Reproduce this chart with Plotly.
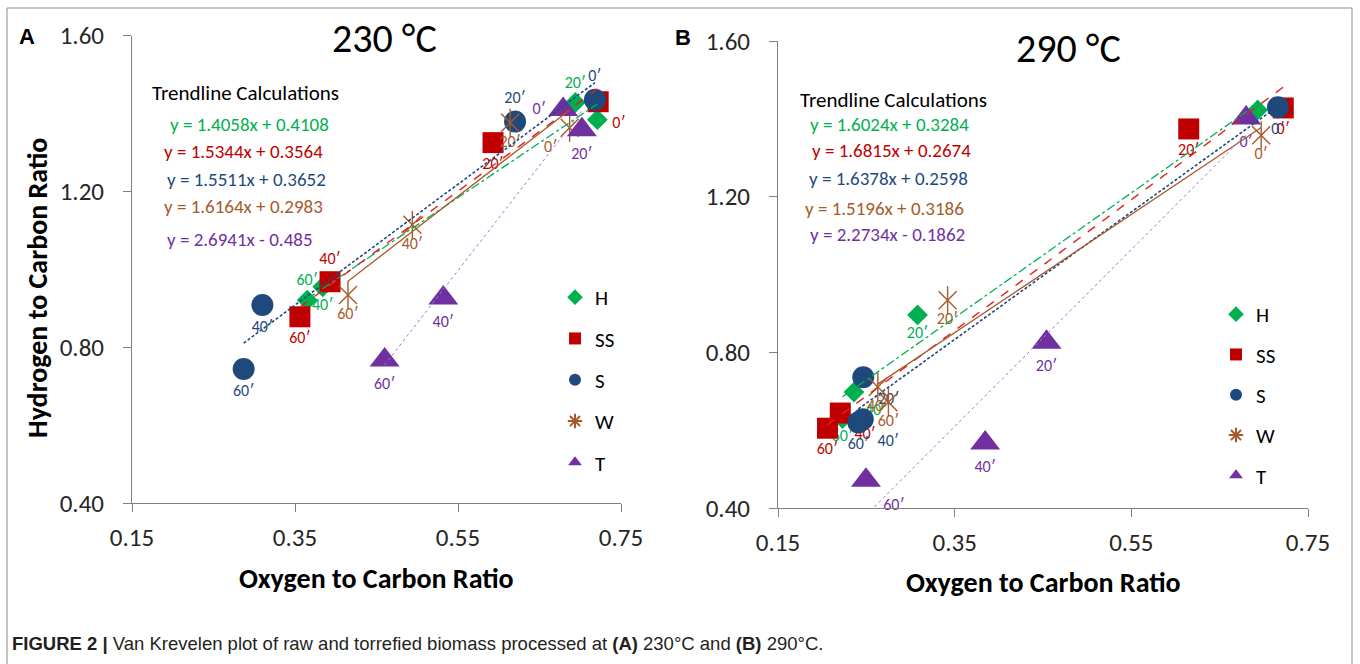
import plotly.graph_objects as go

FIG_W, FIG_H = 1360, 664
FONT = "Carlito, Lato, sans-serif"

# ---------------- data ----------------
series = ["H", "SS", "S", "W", "T"]
colors = ["#00B050", "#C00000", "#1F497D", "#A8592A", "#7030A0"]
time_labels = ["0′", "20′", "40′", "60′"]
x_ticks = [0.15, 0.35, 0.55, 0.75]
y_ticks = [0.40, 0.80, 1.20, 1.60]

# Panel A : 230 °C  (O/C, H/C) for 0', 20', 40', 60'
a_H_x = [0.721, 0.694, 0.384, 0.365]
a_H_y = [1.384, 1.428, 0.955, 0.921]
a_SS_x = [0.722, 0.593, 0.393, 0.356]
a_SS_y = [1.430, 1.325, 0.968, 0.878]
a_S_x = [0.718, 0.620, 0.310, 0.287]
a_S_y = [1.435, 1.379, 0.908, 0.744]
a_W_x = [0.687, 0.614, 0.494, 0.415]
a_W_y = [1.363, 1.376, 1.114, 0.934]
a_T_x = [0.679, 0.702, 0.532, 0.460]
a_T_y = [1.410, 1.358, 0.926, 0.767]

# Panel B : 290 °C
b_H_x = [0.693, 0.308, 0.236, 0.223]
b_H_y = [1.423, 0.896, 0.698, 0.630]
b_SS_x = [0.722, 0.615, 0.2205, 0.206]
b_SS_y = [1.428, 1.374, 0.644, 0.605]
b_S_x = [0.716, 0.2465, 0.246, 0.241]
b_S_y = [1.430, 0.736, 0.628, 0.620]
b_W_x = [0.697, 0.342, 0.263, 0.275]
b_W_y = [1.358, 0.934, 0.711, 0.672]
b_T_x = [0.680, 0.454, 0.3845, 0.2496]
b_T_y = [1.402, 0.826, 0.567, 0.471]

# trendline coefficients (slope, intercept)
a_slopes = [1.4058, 1.5344, 1.5511, 1.6164, 2.6941]
a_intercepts = [0.4108, 0.3564, 0.3652, 0.2983, -0.485]
b_slopes = [1.6024, 1.6815, 1.6378, 1.5196, 2.2734]
b_intercepts = [0.3284, 0.2674, 0.2598, 0.3186, -0.1862]
a_equations = ["y = 1.4058x + 0.4108", "y = 1.5344x + 0.3564", "y = 1.5511x + 0.3652",
               "y = 1.6164x + 0.2983", "y = 2.6941x - 0.485"]
b_equations = ["y = 1.6024x + 0.3284", "y = 1.6815x + 0.2674", "y = 1.6378x + 0.2598",
               "y = 1.5196x + 0.3186", "y = 2.2734x - 0.1862"]

# point labels (H 0' label hidden in the original)
a_labels = {"H": ["", "20′", "40′", "60′"]}
b_labels = {"H": ["", "20′", "40′", "60′"]}

# ---------------- styles ----------------
symbols = {"H": "diamond", "SS": "square", "S": "circle", "W": "x-thin-open", "T": "triangle-up"}
msizes = {"H": 16, "SS": 21, "S": 22, "W": 18, "T": 26}
line_dash = ["dashdot", "dash", "3px,2px", "solid", "dot"]
line_color = ["#00B050", "#E02020", "#1F497D", "#A8592A", "#A07AD6"]
line_width = [1.3, 1.4, 1.6, 1.3, 1.0]

a_pos = {
    "H": ["top center", "top center", "bottom center", "top center"],
    "SS": ["bottom right", "bottom center", "top center", "bottom center"],
    "S": ["top center", "top center", "bottom center", "bottom center"],
    "W": ["bottom left", "bottom center", "bottom center", "bottom center"],
    "T": ["middle left", "bottom center", "bottom center", "bottom center"],
}
b_pos = {
    "H": ["bottom center", "bottom center", "bottom right", "bottom center"],
    "SS": ["bottom center", "bottom center", "bottom right", "bottom center"],
    "S": ["bottom center", "bottom right", "bottom right", "bottom center"],
    "W": ["bottom center"] * 4,
    "T": ["bottom center", "bottom center", "bottom center", "bottom right"],
}

panel_a = {"H": (a_H_x, a_H_y), "SS": (a_SS_x, a_SS_y), "S": (a_S_x, a_S_y),
           "W": (a_W_x, a_W_y), "T": (a_T_x, a_T_y)}
panel_b = {"H": (b_H_x, b_H_y), "SS": (b_SS_x, b_SS_y), "S": (b_S_x, b_S_y),
           "W": (b_W_x, b_W_y), "T": (b_T_x, b_T_y)}


def px(x):
    return x / FIG_W


def py(y):
    return 1 - y / FIG_H


fig = go.Figure()


def add_panel(data, pos, labels, slopes, intercepts, xa, ya, legend, tag):
    for i, s in enumerate(series):
        xs, ys = data[s]
        txt = labels.get(s, time_labels)
        fig.add_trace(go.Scatter(
            x=xs, y=ys, mode="markers+text", text=txt, textposition=pos[s],
            textfont=dict(family=FONT, size=16, color=colors[i]),
            marker=dict(symbol=symbols[s], size=msizes[s], color=colors[i],
                        line=dict(color=colors[i], width=1.4 if s == "W" else 0)),
            xaxis=xa, yaxis=ya, cliponaxis=False, name=s,
            legend=legend, legendgroup=tag + s, showlegend=(s != "W")))
        if s == "W":
            fig.add_trace(go.Scatter(
                x=xs, y=ys, mode="markers",
                marker=dict(symbol="line-ns-open", size=msizes[s] + 2, color=colors[i],
                            line=dict(color=colors[i], width=1.4)),
                xaxis=xa, yaxis=ya, cliponaxis=False, showlegend=False,
                legend=legend, legendgroup=tag + s, hoverinfo="skip"))
            fig.add_trace(go.Scatter(
                x=[None], y=[None], mode="markers", name=s,
                marker=dict(symbol="asterisk-open", size=12, color=colors[i],
                            line=dict(color=colors[i], width=1.4)),
                xaxis=xa, yaxis=ya, legend=legend, legendgroup=tag + s))
    # trendlines drawn over the markers
    for i, s in enumerate(series):
        xs, _ = data[s]
        x0, x1 = min(xs), max(xs)
        fig.add_trace(go.Scatter(
            x=[x0, x1], y=[slopes[i] * x0 + intercepts[i], slopes[i] * x1 + intercepts[i]],
            mode="lines", line=dict(color=line_color[i], dash=line_dash[i], width=line_width[i]),
            xaxis=xa, yaxis=ya, showlegend=False, hoverinfo="skip"))


add_panel(panel_a, a_pos, a_labels, a_slopes, a_intercepts, "x", "y", "legend", "a")
add_panel(panel_b, b_pos, b_labels, b_slopes, b_intercepts, "x2", "y2", "legend2", "b")

axis_common = dict(showline=True, linecolor="#7f7f7f", linewidth=1, ticks="outside",
                   ticklen=8, tickcolor="#7f7f7f", showgrid=False, zeroline=False,
                   automargin=False,
                   tickfont=dict(family=FONT, size=25, color="#262626"), tickformat=".2f")

fig.update_layout(
    width=FIG_W, height=FIG_H,
    margin=dict(l=0, r=0, t=0, b=0, pad=0, autoexpand=False),
    paper_bgcolor="white", plot_bgcolor="white",
    xaxis=dict(domain=[px(132), px(621)], range=[0.15, 0.75], tickvals=x_ticks,
               anchor="y", ticklabelstandoff=4, **axis_common),
    yaxis=dict(domain=[py(503), py(35.5)], range=[0.40, 1.60], tickvals=y_ticks,
               anchor="x", ticklabelstandoff=14, **axis_common),
    xaxis2=dict(domain=[px(778), px(1308)], range=[0.15, 0.75], tickvals=x_ticks,
                anchor="y2", ticklabelstandoff=4, **axis_common),
    yaxis2=dict(domain=[py(508), py(41)], range=[0.40, 1.60], tickvals=y_ticks,
                anchor="x2", ticklabelstandoff=14, **axis_common),
    legend=dict(x=px(555), y=py(277), xanchor="left", yanchor="top",
                bgcolor="rgba(0,0,0,0)", font=dict(family=FONT, size=21, color="#000"),
                tracegroupgap=11, itemsizing="constant"),
    legend2=dict(x=px(1216), y=py(294), xanchor="left", yanchor="top",
                 bgcolor="rgba(0,0,0,0)", font=dict(family=FONT, size=21, color="#000"),
                 tracegroupgap=10, itemsizing="constant"),
    showlegend=True,
)

ann = []


def add_text(text, x, y, size, color="#000", xanchor="left", family=FONT, angle=0):
    ann.append(dict(text=text, x=px(x), y=py(y), xref="paper", yref="paper",
                    xanchor=xanchor, yanchor="middle", showarrow=False, textangle=angle,
                    font=dict(family=family, size=size, color=color)))


# panel letters and titles
add_text("<b>A</b>", 27, 36, 22, family="Liberation Sans, Arial", xanchor="center")
add_text("<b>B</b>", 683, 37, 22, family="Liberation Sans, Arial", xanchor="center")
add_text("230 °C", 384, 38, 40, xanchor="center")
add_text("290 °C", 1068, 48, 40, xanchor="center")

# trendline equations
add_text("Trendline Calculations", 150, 93, 21)
a_eq_pos = [(168, 124), (162, 152), (165, 179), (162, 206), (165, 239)]
for i, (x, y) in enumerate(a_eq_pos):
    add_text(a_equations[i], x, y, 19, colors[i])
add_text("Trendline Calculations", 798, 100, 21)
b_eq_pos = [(808, 124), (810, 151), (807, 178), (803, 209), (808, 235)]
for i, (x, y) in enumerate(b_eq_pos):
    add_text(b_equations[i], x, y, 19, colors[i])

# axis titles
add_text("<b>Hydrogen to Carbon Ratio</b>", 37, 288, 28, xanchor="center", angle=-90)
add_text("<b>Oxygen to Carbon Ratio</b>", 376, 578, 28, xanchor="center")
add_text("<b>Oxygen to Carbon Ratio</b>", 1043, 582, 28, xanchor="center")

# caption
add_text("<b>FIGURE 2 |</b> Van Krevelen plot of raw and torrefied biomass processed at "
         "<b>(A)</b> 230°C and <b>(B)</b> 290°C.", 10, 643, 18.5, color="#231f20",
         family="Liberation Sans Narrow, Arial Narrow, Liberation Sans, sans-serif")

fig.update_layout(annotations=ann)

# outer frame
fig.add_shape(type="rect", xref="paper", yref="paper", x0=px(7), x1=px(1352),
              y0=py(670), y1=py(8), line=dict(color="#8c8c8c", width=1), layer="below")

fig.write_html("out.html", config={"displayModeBar": False},
               post_script="document.body.style.margin='0';document.body.style.padding='0';")
